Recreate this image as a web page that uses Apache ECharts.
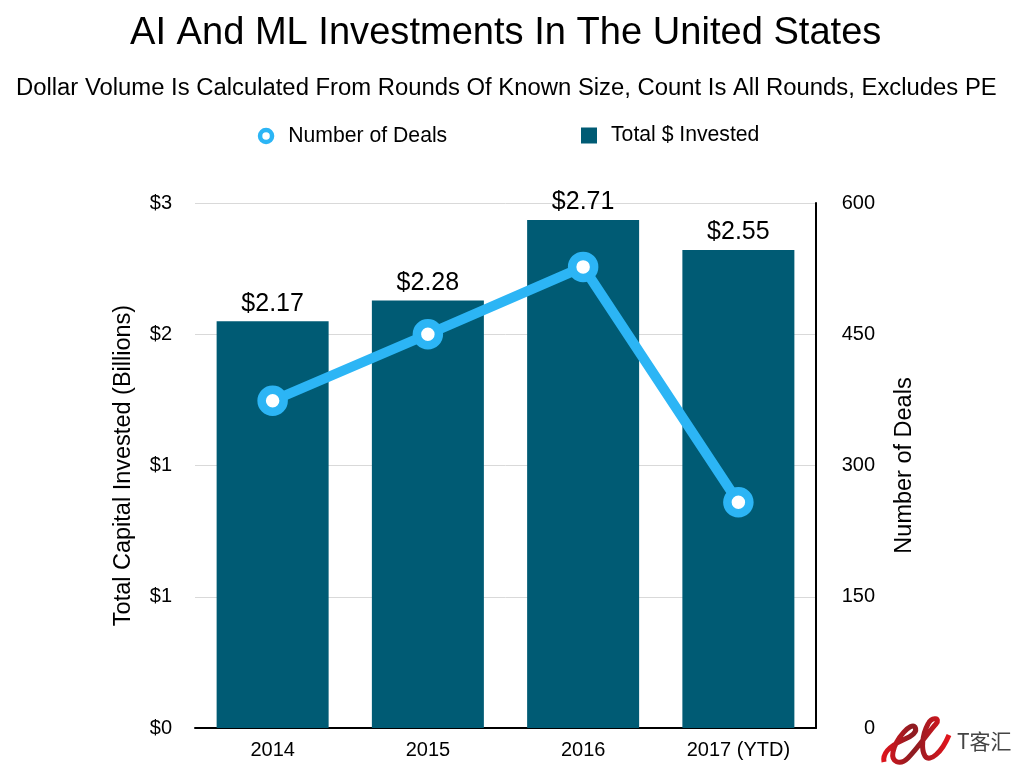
<!DOCTYPE html>
<html>
<head>
<meta charset="utf-8">
<title>AI And ML Investments</title>
<script src="https://cdn.jsdelivr.net/npm/echarts@6/dist/echarts.min.js"></script>
<style>
    html, body { margin: 0; padding: 0; background: #fff; }
    #chart { width: 1024px; height: 774px; }
</style>
</head>
<body>
<div id="chart"></div>
<script>
const categories = ['2014', '2015', '2016', '2017 (YTD)'];
const invested = [2.17, 2.28, 2.71, 2.55];
const deals = [374, 450, 527, 258];

const FONT = '"Liberation Sans", Arial, sans-serif';
const BAR_COLOR = '#005b74';
const LINE_COLOR = '#2cb5f5';

// watermark ribbon, bottom right
const ribbonPath = 'M884 762 C882 752 892 745 903 740 C912 736 918 732 915 727 C911 722 896 738 893 752 C891 762 900 766 908 758 C918 748 930 730 936 724 C941 718 932 716 928 724 C922 735 921 750 925 756 C930 763 942 752 949 735';
echarts.graphic.registerShape('ribbon', echarts.graphic.extendPath(ribbonPath, {}));

const myChart = echarts.init(document.getElementById('chart'), null, { renderer: 'canvas' });

myChart.setOption({
    animation: false,
    backgroundColor: '#fff',
    textStyle: { fontFamily: FONT },
    title: [
        {
            text: 'AI And ML Investments In The United States',
            left: 125,
            top: 9,
            textStyle: { fontSize: 38.1, fontWeight: 'normal', color: '#000', fontFamily: FONT }
        },
        {
            text: 'Dollar Volume Is Calculated From Rounds Of Known Size, Count Is All Rounds, Excludes PE',
            left: 11,
            top: 71,
            textStyle: { fontSize: 23.85, fontWeight: 'normal', color: '#000', fontFamily: FONT }
        }
    ],
    // two legends, the marker sizes differ
    legend: [
        {
            left: 257.8,
            top: 125.5,
            padding: 0,
            itemWidth: 12,
            itemHeight: 12,
            textStyle: { fontSize: 21.2, color: '#000', fontFamily: FONT, padding: [0, 0, 0, 11.2] },
            data: [
                {
                    name: 'Number of Deals',
                    icon: 'circle',
                    itemStyle: { color: '#fff', borderColor: LINE_COLOR, borderWidth: 4.5 }
                }
            ]
        },
        {
            left: 581,
            top: 125,
            padding: 0,
            itemWidth: 16,
            itemHeight: 16,
            textStyle: { fontSize: 21.2, color: '#000', fontFamily: FONT, padding: [0, 0, 0, 9] },
            data: [
                {
                    name: 'Total $ Invested',
                    icon: 'rect',
                    itemStyle: { color: BAR_COLOR }
                }
            ]
        }
    ],
    grid: { left: 195, right: 208, top: 203, bottom: 46 },
    xAxis: {
        type: 'category',
        data: categories,
        axisLine: { lineStyle: { color: '#000', width: 2 } },
        axisTick: { show: false },
        axisLabel: { fontSize: 20, color: '#000', margin: 12, fontFamily: FONT }
    },
    yAxis: [
        {
            type: 'value',
            min: 0,
            max: 2.8,
            interval: 0.7,
            name: 'Total Capital Invested (Billions)',
            nameLocation: 'middle',
            nameGap: 59,
            nameRotate: 90,
            nameTextStyle: { fontSize: 23.5, color: '#000', fontFamily: FONT },
            axisLine: { show: false },
            axisTick: { show: false },
            axisLabel: {
                fontSize: 20,
                color: '#000',
                margin: 23,
                fontFamily: FONT,
                formatter: function (v) { return '$' + Math.round(v); }
            },
            splitLine: { lineStyle: { color: '#d9d9d9', width: 1 } }
        },
        {
            type: 'value',
            min: 0,
            max: 600,
            interval: 150,
            name: 'Number of Deals',
            nameLocation: 'middle',
            nameGap: 77,
            nameRotate: 90,
            nameTextStyle: { fontSize: 23.5, color: '#000', fontFamily: FONT },
            axisLine: { show: true, lineStyle: { color: '#000', width: 2 } },
            axisTick: { show: false },
            axisLabel: { fontSize: 20, color: '#000', margin: 59, align: 'right', fontFamily: FONT },
            splitLine: { show: false }
        }
    ],
    series: [
        {
            name: 'Total $ Invested',
            type: 'bar',
            yAxisIndex: 0,
            data: invested,
            barWidth: 112,
            itemStyle: { color: BAR_COLOR },
            label: {
                show: true,
                position: 'top',
                distance: 5,
                fontSize: 25,
                color: '#000',
                fontFamily: FONT,
                formatter: function (p) { return '$' + p.value.toFixed(2); }
            }
        },
        {
            name: 'Number of Deals',
            type: 'line',
            yAxisIndex: 1,
            data: deals,
            symbol: 'circle',
            symbolSize: 22,
            lineStyle: { color: LINE_COLOR, width: 10 },
            itemStyle: { color: '#fff', borderColor: LINE_COLOR, borderWidth: 8.5 }
        }
    ],
    graphic: [
        {
            type: 'ribbon',
            style: {
                fill: null,
                lineWidth: 5,
                stroke: new echarts.graphic.LinearGradient(0, 0, 1, 0, [
                    { offset: 0, color: '#e2141c' },
                    { offset: 0.45, color: '#8c1c22' },
                    { offset: 1, color: '#e8141c' }
                ])
            }
        },
        {
            type: 'text',
            left: 957,
            top: 731,
            style: {
                text: 'T客汇',
                fontSize: 21,
                fill: '#444',
                fontFamily: '"Noto Sans CJK SC"'
            }
        }
    ]
});
</script>
</body>
</html>
